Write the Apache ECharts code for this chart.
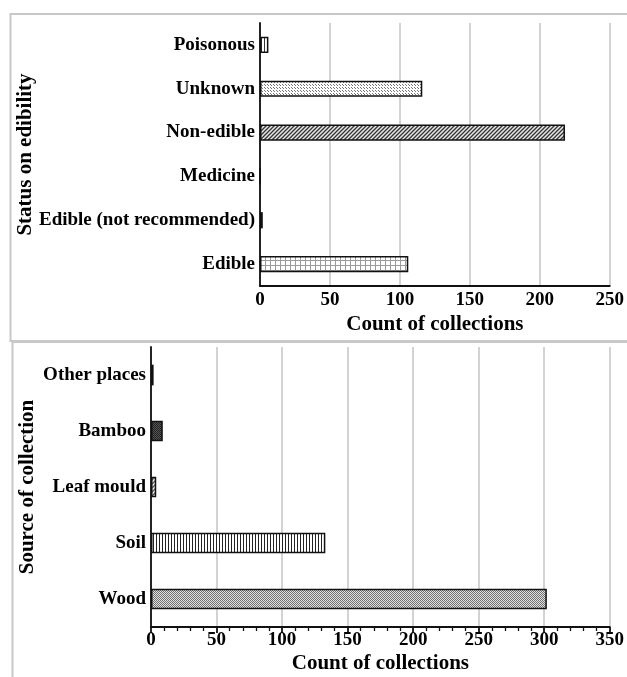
<!DOCTYPE html>
<html>
<head>
<meta charset="utf-8">
<script src="https://cdn.jsdelivr.net/npm/echarts@6/dist/echarts.min.js"></script>
<style>
  html, body { margin: 0; padding: 0; background: #fff; }
  #main { width: 627px; height: 677px; }
</style>
</head>
<body>
<div id="main"></div>
<script>
// top panel: edibility (bottom to top, as on the axis)
var edibilityCats = ['Edible', 'Edible (not recommended)', 'Medicine', 'Non-edible', 'Unknown', 'Poisonous'];
var edibilityCounts = [106, 2, 0, 218, 116, 6];
var edibilityTicks = [0, 50, 100, 150, 200, 250];

// bottom panel: source of collection
var sourceCats = ['Wood', 'Soil', 'Leaf mould', 'Bamboo', 'Other places'];
var sourceCounts = [302, 133, 4, 9, 2];
var sourceTicks = [0, 50, 100, 150, 200, 250, 300, 350];

var serifFont = '"Liberation Serif", "Times New Roman", serif';

// little canvas tiles for the hatched fills
function makeTile(w, h, draw) {
    var c = document.createElement('canvas');
    c.width = w;
    c.height = h;
    var ctx = c.getContext('2d');
    draw(ctx, w, h);
    return { image: c, repeat: 'repeat' };
}

function vLines(bg, fg) {
    return makeTile(3, 3, function (ctx, w, h) {
        ctx.fillStyle = bg; ctx.fillRect(0, 0, w, h);
        ctx.fillStyle = fg; ctx.fillRect(0, 0, 1, h);
    });
}

function dots(bg, fg, size) {
    return makeTile(size, size, function (ctx, w, h) {
        ctx.fillStyle = bg; ctx.fillRect(0, 0, w, h);
        ctx.fillStyle = fg;
        ctx.fillRect(0, 0, 1, 1);
        ctx.fillRect(Math.floor(w / 2), Math.floor(h / 2), 1, 1);
    });
}

function diag(bg, fg) {
    return makeTile(4, 4, function (ctx, w, h) {
        ctx.fillStyle = bg; ctx.fillRect(0, 0, w, h);
        ctx.strokeStyle = fg; ctx.lineWidth = 1.3;
        ctx.beginPath();
        ctx.moveTo(0, h); ctx.lineTo(w, 0);
        ctx.moveTo(-1, 1); ctx.lineTo(1, -1);
        ctx.moveTo(w - 1, h + 1); ctx.lineTo(w + 1, h - 1);
        ctx.stroke();
    });
}

function gridTile(bg, fg) {
    return makeTile(5, 5, function (ctx, w, h) {
        ctx.fillStyle = bg; ctx.fillRect(0, 0, w, h);
        ctx.fillStyle = fg;
        ctx.fillRect(0, 0, 1, h);
        ctx.fillRect(0, 0, w, 1);
    });
}

var edibilityFills = [
    gridTile('#ffffff', '#9a9a9a'),
    '#222222',
    '#222222',
    diag('#e8e8e8', '#333333'),
    dots('#ffffff', '#777777', 3),
    vLines('#ffffff', '#333333')
];
var sourceFills = [
    dots('#e2e2e2', '#6f6f6f', 2),
    vLines('#ffffff', '#222222'),
    diag('#f4f4f4', '#555555'),
    dots('#555555', '#222222', 2),
    '#111111'
];

function barItems(values, fills) {
    return values.map(function (v, i) {
        return {
            value: v,
            itemStyle: { color: fills[i], borderColor: '#111', borderWidth: 1.5 }
        };
    });
}

var labelStyle = { color: '#000', fontFamily: serifFont, fontWeight: 'bold', fontSize: 19 };
var nameStyle = { color: '#000', fontFamily: serifFont, fontWeight: 'bold', fontSize: 21 };

function catAxis(grid, cats, name, gap) {
    return [{
        type: 'category', gridIndex: grid, position: 'left', data: cats,
        name: name, nameLocation: 'middle', nameGap: gap, nameTextStyle: nameStyle,
        nameMoveOverlap: false,
        axisLine: { lineStyle: { color: '#111', width: 1.8 } },
        axisTick: { alignWithLabel: true, length: 5, lineStyle: { color: '#111', width: 1.8 } },
        axisLabel: Object.assign({ margin: 5 }, labelStyle)
    }, {
        // the small inward ticks between categories
        type: 'category', gridIndex: grid, position: 'left', data: cats,
        axisLine: { show: false },
        axisTick: { inside: true, length: 5, lineStyle: { color: '#111', width: 1.8 } },
        axisLabel: { show: false }
    }];
}

var chart = echarts.init(document.getElementById('main'));

var option = {
    animation: false,
    graphic: [
        { type: 'rect', shape: { x: 10.5, y: 14, width: 700, height: 327 },
          style: { fill: 'none', stroke: '#c8c8c8', lineWidth: 2 } },
        { type: 'rect', shape: { x: 12.5, y: 342, width: 700, height: 400 },
          style: { fill: 'none', stroke: '#c8c8c8', lineWidth: 2 } }
    ],
    grid: [
        { left: 260, right: 15, top: 23, bottom: 391 },
        { left: 151, right: 16, top: 347, bottom: 50 }
    ],
    xAxis: [{
        type: 'value', gridIndex: 0, min: edibilityTicks[0],
        max: edibilityTicks[edibilityTicks.length - 1], interval: 50,
        name: 'Count of collections', nameLocation: 'middle', nameGap: 28, nameTextStyle: nameStyle,
        axisLine: { show: true, lineStyle: { color: '#111', width: 1.8 } },
        axisTick: { show: false },
        axisLabel: Object.assign({ margin: 5 }, labelStyle),
        splitLine: { show: true, lineStyle: { color: '#c4c4c4', width: 1.5 } }
    }, {
        type: 'value', gridIndex: 1, min: sourceTicks[0],
        max: sourceTicks[sourceTicks.length - 1], interval: 50,
        name: 'Count of collections', nameLocation: 'middle', nameGap: 26, nameTextStyle: nameStyle,
        axisLine: { show: true, lineStyle: { color: '#111', width: 1.8 } },
        axisTick: { show: true, length: 6, lineStyle: { color: '#111', width: 1.8 } },
        minorTick: { show: true, splitNumber: 5, length: 4, lineStyle: { color: '#111', width: 1.3 } },
        axisLabel: Object.assign({ margin: 4 }, labelStyle),
        splitLine: { show: true, lineStyle: { color: '#c4c4c4', width: 1.5 } }
    }],
    yAxis: catAxis(0, edibilityCats, 'Status on edibility', 224)
        .concat(catAxis(1, sourceCats, 'Source of collection', 113)),
    series: [{
        type: 'bar', xAxisIndex: 0, yAxisIndex: 0, barWidth: '37%',
        data: barItems(edibilityCounts, edibilityFills)
    }, {
        type: 'bar', xAxisIndex: 1, yAxisIndex: 2, barWidth: '37%',
        data: barItems(sourceCounts, sourceFills)
    }]
};

chart.setOption(option);
</script>
</body>
</html>
